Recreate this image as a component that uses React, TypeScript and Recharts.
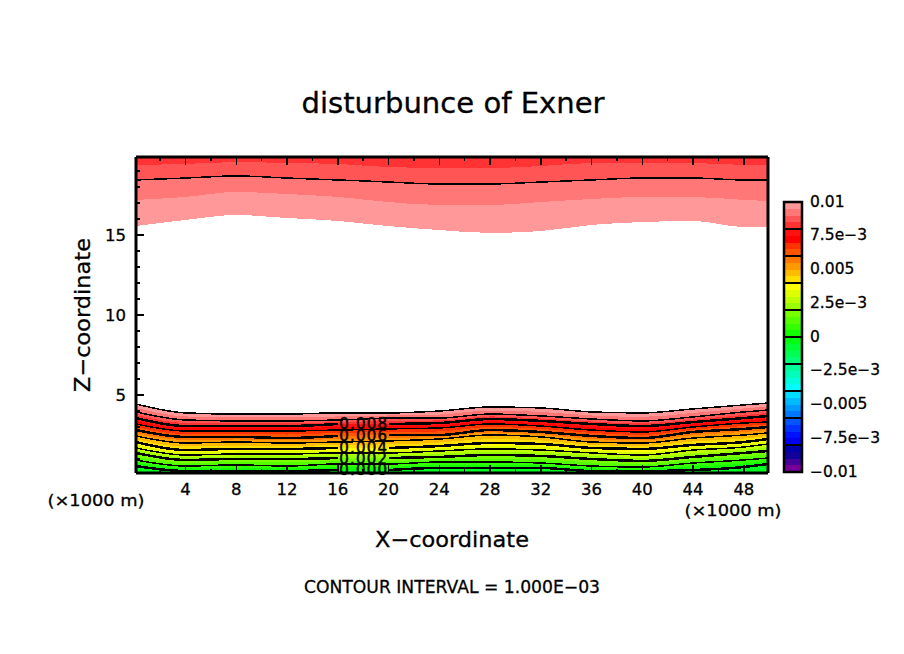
import React from "react";
import {
  ComposedChart, Area, Line, XAxis, YAxis, ReferenceArea, ReferenceLine, ReferenceDot,
} from "recharts";

// Horizontal sample positions (x 1000 m)
const xs = [0.1, 4, 8, 12, 16, 18, 20, 24, 28, 32, 36, 40, 44, 48, 49.9];

// Height (x 1000 m) of each Exner-disturbance level, lower layer
const floorZ = [0.125, 0.125, 0.125, 0.125, 0.125, 0.125, 0.125, 0.125, 0.125, 0.125, 0.125, 0.125, 0.125, 0.125, 0.125];
const L0 = [0.56, 0.25, 0.25, 0.25, 0.31, 0.31, 0.31, 0.44, 0.44, 0.44, 0.25, 0.25, 0.31, 0.5, 0.69];
const M0 = [0.75, 0.41, 0.44, 0.41, 0.5, 0.5, 0.5, 0.63, 0.63, 0.6, 0.41, 0.38, 0.53, 0.72, 0.88];
const L1 = [0.94, 0.56, 0.63, 0.56, 0.69, 0.69, 0.69, 0.81, 0.81, 0.75, 0.56, 0.5, 0.75, 0.94, 1.06];
const M1 = [1.16, 0.75, 0.81, 0.78, 0.88, 0.88, 0.88, 0.97, 1.03, 0.97, 0.78, 0.69, 0.94, 1.16, 1.28];
const L2 = [1.38, 0.94, 1.0, 1.0, 1.06, 1.06, 1.06, 1.13, 1.25, 1.19, 1.0, 0.88, 1.13, 1.38, 1.5];
const M2 = [1.53, 1.1, 1.16, 1.16, 1.22, 1.22, 1.22, 1.31, 1.44, 1.38, 1.19, 1.06, 1.34, 1.56, 1.72];
const L3 = [1.69, 1.25, 1.31, 1.31, 1.38, 1.38, 1.38, 1.5, 1.63, 1.56, 1.38, 1.25, 1.56, 1.75, 1.94];
const M3 = [1.88, 1.41, 1.47, 1.47, 1.53, 1.53, 1.53, 1.66, 1.81, 1.75, 1.53, 1.44, 1.72, 1.91, 2.1];
const L4 = [2.06, 1.56, 1.63, 1.63, 1.69, 1.69, 1.69, 1.81, 2.0, 1.94, 1.69, 1.63, 1.88, 2.06, 2.25];
const M4 = [2.25, 1.78, 1.84, 1.81, 1.88, 1.9, 1.91, 2.03, 2.25, 2.16, 1.88, 1.81, 2.1, 2.28, 2.44];
const L5 = [2.44, 2.0, 2.06, 2.0, 2.06, 2.09, 2.13, 2.25, 2.5, 2.38, 2.06, 2.0, 2.31, 2.5, 2.63];
const M5 = [2.63, 2.19, 2.22, 2.16, 2.25, 2.28, 2.31, 2.38, 2.66, 2.53, 2.25, 2.16, 2.5, 2.69, 2.81];
const L6 = [2.81, 2.38, 2.38, 2.31, 2.44, 2.47, 2.5, 2.5, 2.81, 2.69, 2.44, 2.31, 2.69, 2.88, 3.0];
const M6 = [3.0, 2.56, 2.56, 2.53, 2.63, 2.66, 2.69, 2.72, 3.0, 2.88, 2.63, 2.5, 2.84, 3.06, 3.16];
const L7 = [3.19, 2.75, 2.75, 2.75, 2.81, 2.84, 2.88, 2.94, 3.19, 3.06, 2.81, 2.69, 3.0, 3.25, 3.31];
const M7 = [3.38, 2.91, 2.91, 2.91, 3.0, 3.02, 3.04, 3.1, 3.35, 3.22, 3.0, 2.88, 3.16, 3.41, 3.5];
const L8 = [3.56, 3.06, 3.06, 3.06, 3.19, 3.19, 3.19, 3.25, 3.5, 3.38, 3.19, 3.06, 3.31, 3.56, 3.69];
const M8 = [3.75, 3.25, 3.22, 3.22, 3.31, 3.34, 3.38, 3.41, 3.66, 3.53, 3.34, 3.22, 3.47, 3.75, 3.88];
const L9 = [3.94, 3.44, 3.38, 3.38, 3.44, 3.5, 3.56, 3.56, 3.81, 3.69, 3.5, 3.38, 3.63, 3.94, 4.06];
const M9 = [4.19, 3.66, 3.6, 3.6, 3.66, 3.69, 3.72, 3.78, 4.03, 3.94, 3.72, 3.63, 3.88, 4.16, 4.28];
const L10 = [4.44, 3.88, 3.81, 3.81, 3.88, 3.88, 3.88, 4.0, 4.25, 4.19, 3.94, 3.88, 4.13, 4.38, 4.5];

// Upper layer
const U10 = [15.56, 15.94, 16.25, 16.06, 15.88, 15.72, 15.56, 15.31, 15.13, 15.25, 15.63, 15.81, 15.88, 15.5, 15.5];
const U95 = [17.19, 17.38, 17.69, 17.56, 17.38, 17.22, 17.06, 16.88, 16.88, 17.06, 17.25, 17.38, 17.38, 17.19, 17.13];
const U9 = [18.44, 18.56, 18.69, 18.56, 18.44, 18.38, 18.31, 18.19, 18.19, 18.31, 18.44, 18.56, 18.56, 18.44, 18.44];
const U85 = [19.38, 19.44, 19.56, 19.5, 19.44, 19.34, 19.25, 19.19, 19.19, 19.31, 19.5, 19.5, 19.5, 19.38, 19.38];
const ceilZ = [19.875, 19.875, 19.875, 19.875, 19.875, 19.875, 19.875, 19.875, 19.875, 19.875, 19.875, 19.875, 19.875, 19.875, 19.875];

const lowerEdges = [floorZ, L0, M0, L1, M1, L2, M2, L3, M3, L4, M4, L5, M5, L6, M6, L7, M7, L8, M8, L9, M9, L10];
const lowerColors = [
  "#00ff22", "#11ff00", "#33ff00", "#55ff00", "#77ff00", "#99ff00", "#bbff00", "#ddff00", "#ffff00",
  "#ffdd00", "#ffbb00", "#ff9900", "#ff7700", "#ff5500", "#ff3300", "#ff0000", "#ff1111", "#ff3333",
  "#ff5555", "#ff7777", "#ff9999",
];
const upperEdges = [U10, U95, U9, U85, ceilZ];
const upperColors = ["#ff9999", "#ff7777", "#ff5555", "#ff3333"];

const contours = [L0, L1, L2, L3, L4, L5, L6, L7, L8, L9, L10, U9];
const contourThick = [true, false, true, false, true, false, true, false, true, false, false, false];
const contourOpen = [true, false, true, false, true, false, true, false, true, false, false, false];

const contourLabels = ["0.008", "0.006", "0.004", "0.002", "0.000"];
const contourLabelZ = [3.19, 2.47, 1.75, 1.06, 0.34];

const xTicks = [2, 4, 6, 8, 10, 12, 14, 16, 18, 20, 22, 24, 26, 28, 30, 32, 34, 36, 38, 40, 42, 44, 46, 48];
const zTicks = [1, 2, 3, 4, 5, 6, 7, 8, 9, 10, 11, 12, 13, 14, 15, 16, 17, 18, 19];

// Colour bar: one shade per 0.0005 step, top to bottom
const barColors = [
  "#ff9999", "#ff7777", "#ff5555", "#ff3333", "#ff1111", "#ff0000", "#ff3300", "#ff5500", "#ff7700", "#ff9900",
  "#ffbb00", "#ffdd00", "#ffff00", "#ddff00", "#bbff00", "#99ff00", "#77ff00", "#55ff00", "#33ff00", "#11ff00",
  "#00ff11", "#00ff33", "#00ff55", "#00ff77", "#00ff99", "#00ffbb", "#00ffdd", "#00ffff", "#00ddff", "#00bbff",
  "#0099ff", "#0077ff", "#0055ff", "#0033ff", "#0011ff", "#0000ee", "#0000aa", "#110099", "#440099", "#770099",
];
const barEdges = [
  0.01, 0.0095, 0.009, 0.0085, 0.008, 0.0075, 0.007, 0.0065, 0.006, 0.0055, 0.005, 0.0045, 0.004, 0.0035, 0.003, 0.0025,
  0.002, 0.0015, 0.001, 0.0005, 0, -0.0005, -0.001, -0.0015, -0.002, -0.0025, -0.003, -0.0035, -0.004, -0.0045, -0.005,
  -0.0055, -0.006, -0.0065, -0.007, -0.0075, -0.008, -0.0085, -0.009, -0.0095, -0.01,
];
const barTicks = [0.01, 0.0075, 0.005, 0.0025, 0, -0.0025, -0.005, -0.0075, -0.01];
const barTickLabels = ["0.01", "7.5e\u22123", "0.005", "2.5e\u22123", "0", "\u22122.5e\u22123", "\u22120.005", "\u22127.5e\u22123", "\u22120.01"];
const barLines = [0.008, 0.006, 0.004, 0.002, 0, -0.002, -0.004, -0.006, -0.008];

const FONT = "'DejaVu Sans', sans-serif";

const rows = xs.map((x, i) => {
  const r: any = { x };
  lowerEdges.forEach((e, k) => { if (k < lowerEdges.length - 1) r[`b${k}`] = [e[i], lowerEdges[k + 1][i]]; });
  upperEdges.forEach((e, k) => { if (k < upperEdges.length - 1) r[`u${k}`] = [e[i], upperEdges[k + 1][i]]; });
  contours.forEach((c, k) => { r[`c${k}`] = contourOpen[k] && x === 18 ? null : c[i]; });
  return r;
});
const barRows = [0, 1].map((x) => {
  const r: any = { x };
  barColors.forEach((_, k) => { r[`s${k}`] = [barEdges[k + 1], barEdges[k]]; });
  return r;
});

const BottomTick = ({ x, y, payload }: any) => {
  const major = payload.value % 4 === 0;
  return (
    <g>
      <line x1={x} x2={x} y1={y} y2={y - (major ? 8 : 4)} stroke="#000" strokeWidth={1.5} shapeRendering="crispEdges" />
      {major && (
        <text x={x} y={y + 22} textAnchor="middle" fontFamily={FONT} fontSize={16.5} fill="#000" stroke="#000" strokeWidth={0.3}>{payload.value}</text>
      )}
    </g>
  );
};
const TopTick = ({ x, y, payload }: any) => {
  const major = payload.value % 4 === 0;
  return <line x1={x} x2={x} y1={y} y2={y + (major ? 8 : 4)} stroke="#000" strokeWidth={1.5} shapeRendering="crispEdges" />;
};
const LeftTick = ({ x, y, payload }: any) => {
  const major = payload.value % 5 === 0;
  return (
    <g>
      <line x1={x} x2={x + (major ? 8 : 4)} y1={y} y2={y} stroke="#000" strokeWidth={1.5} shapeRendering="crispEdges" />
      {major && (
        <text x={x - 10} y={y + 6} textAnchor="end" fontFamily={FONT} fontSize={16.5} fill="#000" stroke="#000" strokeWidth={0.3}>{payload.value}</text>
      )}
    </g>
  );
};
const RightTick = ({ x, y, payload }: any) => {
  const major = payload.value % 5 === 0;
  return <line x1={x} x2={x - (major ? 8 : 4)} y1={y} y2={y} stroke="#000" strokeWidth={1.5} shapeRendering="crispEdges" />;
};
const BarTick = ({ x, y, index }: any) => (
  <text x={x + 8} y={y + 4.5} fontFamily={FONT} fontSize={15.5} fill="#000" stroke="#000" strokeWidth={0.3}>{barTickLabels[index]}</text>
);

const ContourLabel = ({ viewBox, value }: any) => (
  <text
    x={viewBox.x}
    y={viewBox.y + 5.5}
    textAnchor="middle"
    fontFamily={FONT}
    fontSize={15}
    fill="#000"
    stroke="#000"
    strokeWidth={0.5}
    textLength={48}
    lengthAdjust="spacing"
  >
    {value}
  </text>
);

const Words = ({ x, y, size, width, anchor = "middle", rotate, children }: any) => (
  <text
    x={x}
    y={y}
    textAnchor={anchor}
    fontFamily={FONT}
    fontSize={size}
    fill="#000"
    stroke="#000"
    strokeWidth={0.3}
    textLength={width}
    lengthAdjust="spacingAndGlyphs"
    transform={rotate ? `rotate(${rotate} ${x} ${y})` : undefined}
  >
    {children}
  </text>
);

const crispCss = ".recharts-area-area,.recharts-line-curve{shape-rendering:crispEdges}";

export default function App() {
  return (
    <div style={{ position: "absolute", left: 0, top: 0, width: 904, height: 654, background: "#fff" }}>
      <style>{crispCss}</style>
      <div style={{ position: "absolute", left: 0, top: 0 }}>
        <ComposedChart width={904} height={654} data={rows} margin={{ top: 157, right: 136, bottom: 141, left: 86 }}>
          {lowerColors.map((c, k) => (
            <Area key={`b${k}`} dataKey={`b${k}`} type="monotone" fill={c} fillOpacity={1} stroke="none" isAnimationActive={false} activeDot={false} dot={false} />
          ))}
          {upperColors.map((c, k) => (
            <Area key={`u${k}`} dataKey={`u${k}`} type="monotone" fill={c} fillOpacity={1} stroke="none" isAnimationActive={false} activeDot={false} dot={false} />
          ))}
          {contours.map((_, k) => (
            <Line key={`c${k}`} dataKey={`c${k}`} type="monotone" stroke="#000" strokeWidth={contourThick[k] ? 2.5 : 1.5} dot={false} activeDot={false} connectNulls={false} isAnimationActive={false} />
          ))}
          <XAxis dataKey="x" type="number" domain={[0.1, 49.9]} ticks={xTicks} interval={0} height={40} tickSize={0} tickMargin={0} tick={BottomTick} tickLine={false} axisLine={{ stroke: "#000", strokeWidth: 3 }} />
          <XAxis xAxisId="top" orientation="top" dataKey="x" type="number" domain={[0.1, 49.9]} ticks={xTicks} interval={0} height={1} mirror tickSize={0} tickMargin={0} tick={TopTick} tickLine={false} axisLine={{ stroke: "#000", strokeWidth: 3 }} />
          <YAxis type="number" domain={[0.125, 19.875]} ticks={zTicks} interval={0} width={50} tickSize={0} tickMargin={0} tick={LeftTick} tickLine={false} axisLine={{ stroke: "#000", strokeWidth: 3 }} />
          <YAxis yAxisId="right" orientation="right" type="number" domain={[0.125, 19.875]} ticks={zTicks} interval={0} width={1} mirror tickSize={0} tickMargin={0} tick={RightTick} tickLine={false} axisLine={{ stroke: "#000", strokeWidth: 3 }} />
          {contourLabels.map((t, k) => (
            <ReferenceDot key={t} x={18} y={contourLabelZ[k]} r={0} fill="none" stroke="none" ifOverflow="visible" label={<ContourLabel value={t} />} />
          ))}
          <Words x={453} y={113} size={28} width={303}>disturbunce of Exner</Words>
          <Words x={452} y={547} size={22} width={154}>X{"\u2212"}coordinate</Words>
          <Words x={90} y={315} size={22} width={154} rotate={-90}>Z{"\u2212"}coordinate</Words>
          <Words x={452} y={593} size={17} width={296}>CONTOUR INTERVAL = 1.000E{"\u2212"}03</Words>
          <Words x={96} y={506} size={16} width={97}>({"\u00d7"}1000 m)</Words>
          <Words x={733} y={516} size={16} width={97}>({"\u00d7"}1000 m)</Words>
        </ComposedChart>
      </div>

      <div style={{ position: "absolute", left: 780, top: 190 }}>
        <ComposedChart width={124} height={300} data={barRows} margin={{ top: 12, right: 102, bottom: 18, left: 4 }}>
          {barColors.map((c, k) => (
            <Area key={c} dataKey={`s${k}`} type="stepAfter" fill={c} fillOpacity={1} stroke="none" isAnimationActive={false} activeDot={false} dot={false} />
          ))}
          <XAxis dataKey="x" type="number" domain={[0, 1]} hide />
          <YAxis orientation="right" type="number" domain={[-0.01, 0.01]} ticks={barTicks} interval={0} width={1} mirror tickSize={0} tickMargin={0} tick={BarTick} tickLine={false} axisLine={false} />
          {barLines.map((v) => (
            <ReferenceLine key={v} y={v} stroke="#000" strokeWidth={2.5} shapeRendering="crispEdges" />
          ))}
          <ReferenceArea x1={0} x2={1} y1={-0.01} y2={0.01} fill="none" fillOpacity={0} stroke="#000" strokeWidth={2.5} ifOverflow="visible" />
        </ComposedChart>
      </div>
    </div>
  );
}
